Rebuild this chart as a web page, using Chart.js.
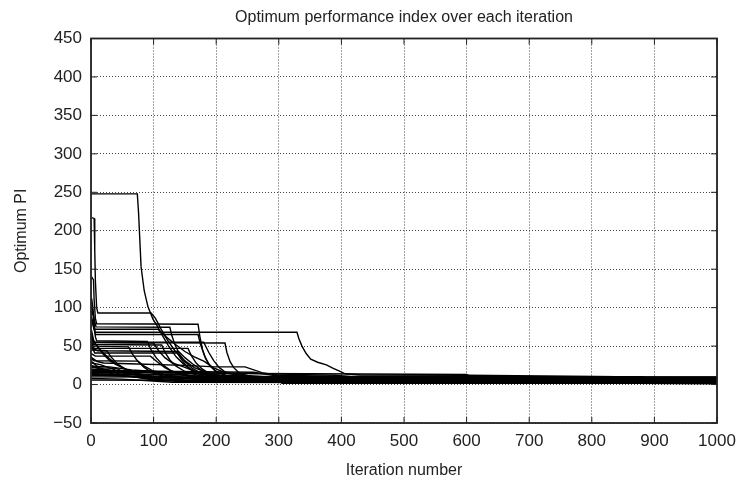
<!DOCTYPE html>
<html lang="en">
<head>
  <meta charset="UTF-8" />
  <title>Optimum performance index over each iteration</title>
  <style>
    body { margin: 0; background: #fff; }
    #wrap { width: 743px; height: 483px; }
  </style>
  <script src="https://cdn.jsdelivr.net/npm/chart.js"></script>
</head>
<body>
  <div id="wrap"><canvas id="piChart" width="743" height="483"></canvas></div>

  <script>
    // best-so-far PI per run: [iteration, PI]
    const runA = [[0,248],[74,248],[76,223],[80,153],[85,122],[91,101],[99,85],[106,76],[114,64],[124,50],[136,36],[150,25],[168,16],[190,11],[240,8],[420,6],[1000,5.5]];
    const runB = [[1,217],[5,216],[6,175],[7,135],[9,100],[11,93],[96,93],[103,86],[112,72],[122,58],[134,44],[148,32],[165,22],[190,14],[230,9],[330,6],[1000,4.5]];
    const runC = [[1,140],[4,136],[5,110],[7,86],[9,79],[171,78.5],[174,62],[178,46],[183,34],[190,24],[200,17],[215,12],[250,9],[340,7],[1000,6.5]];
    const runD = [[1,100],[3,96],[5,85],[8,75],[126,74.5],[129,64],[134,52],[141,40],[150,30],[162,21],[178,14],[205,10],[290,7],[1000,3]];
    const runE = [[1,96],[4,88],[6,68],[329,68],[332,60],[337,50],[344,40],[351,33],[362,29],[376,25.5],[387,21],[398,17],[406,14],[430,12.5],[600,12],[880,10],[890,8],[930,7],[1000,6]];
    const runF = [[1,88],[4,75],[7,65],[171,65],[175,52],[181,38],[188,27],[198,18],[215,12],[260,8],[1000,2]];
    const runG = [[1,70],[3,62],[5,54.5],[214,54],[217,42],[222,30],[228,22],[238,14],[260,10],[330,7],[1000,4]];
    const runH = [[1,60],[4,52],[113,51.5],[118,42],[126,32],[136,24],[150,17],[175,11],[230,7],[1000,1.5]];
    const runI = [[1,55],[5,47],[155,47],[160,38],[168,28],[178,20],[192,13],[220,9],[300,6],[1000,2.5]];
    const runJ = [[1,50],[6,41],[138,41],[144,33],[152,25],[163,17],[180,11],[220,8],[1000,5]];
    const runK = [[1,58],[6,54],[12,47],[20,39],[30,31],[40,26],[48,23],[60,18],[80,13],[110,9],[200,6],[1000,3.5]];
    const runL = [[1,62],[8,52],[16,44],[26,36],[38,28],[50,22],[66,16],[90,11],[140,8],[1000,7]];
    const runM = [[1,45],[25,44],[32,36],[42,27],[55,20],[70,15],[100,10],[160,8.5],[1000,8.5]];
    const runN = [[1,66],[4,55],[100,54],[108,44],[118,35],[130,28],[148,23],[170,16],[200,11],[260,8],[1000,7.5]];
    const runO = [[1,85],[5,72],[107,72],[120,62],[135,52],[150,43],[165,36],[181,30],[195,22],[215,15],[260,10],[380,7],[1000,5]];
    const runP = [[1,35],[10,30],[20,28],[60,27],[150,25],[198,23],[246,23],[273,15.5],[300,12],[400,10.5],[882,10.2],[884,9],[908,8.8],[912,6.5],[1000,6.5]];
    const runQ = [[1,30],[12,22],[30,18],[60,16],[120,15],[238,14.5],[350,14],[600,13],[610,9],[1000,8.8]];
    const runR = [[1,28],[15,26],[35,20],[55,14],[90,11],[150,9],[1000,7]];
    const runS = [[1,25],[8,22],[20,18],[40,12],[80,9],[150,6],[1000,5]];
    const runT = [[1,22],[40,21],[60,14],[100,9],[200,7],[1000,6]];
    const runU = [[1,20],[30,19],[50,12],[90,8],[140,4],[1000,4]];
    const runV = [[1,18],[100,17],[120,12],[170,7],[260,3],[1000,3]];
    const runW = [[1,16],[70,15],[85,9],[120,5],[1000,2]];
    const runX = [[1,14],[150,13],[180,8],[240,5],[1000,1]];
    const runY = [[1,12],[60,11],[100,6],[1000,5.5]];
    const runZ = [[1,10],[200,9.5],[230,6],[1000,4]];
    const runAA = [[1,40],[7,37],[95,37],[105,30],[118,22],[135,15],[160,10],[1000,9.2]];
    const runAB = [[1,33],[5,31],[75,30.5],[85,24],[98,18],[115,13],[150,9],[1000,6.8]];
    const runAC = [[1,48],[10,44],[140,43],[150,35],[162,27],[176,19],[195,12],[240,8],[1000,4.8]];
    const runAD = [[1,57],[6,55.5],[180,55],[188,42],[196,31],[205,22],[215,16],[240,11],[1000,3.8]];
    const runAE = [[1,52],[3,50],[60,49],[66,40],[74,31],[84,23],[96,16],[115,11],[160,8],[1000,6.2]];
    const runAF = [[1,112],[3,100],[5,80],[7,62],[9,57],[90,56],[96,45],[104,35],[114,26],[128,18],[148,12],[190,9],[1000,5.2]];
    const runAG = [[1,8],[50,7],[130,3],[1000,2]];
    const runAH = [[1,6],[300,5],[305,1.5],[1000,1.5]];
    const runAI = [[1,15],[20,12],[100,10],[400,9.8],[1000,9.6]];
    const runAJ = [[1,19],[45,18],[140,17],[260,16],[290,12],[340,9],[1000,8]];
    const runAK = [[1,17],[90,16],[200,15],[300,13.5],[390,12],[420,10],[1000,9.9]];
    const runAL = [[1,13],[110,12.5],[240,12],[280,10],[1000,3.2]];
    const runAM = [[1,24],[30,23],[65,19],[120,16],[180,14],[220,11],[1000,2.2]];

    const runs = [runA, runB, runC, runD, runE, runF, runG, runH, runI, runJ, runK, runL, runM, runN, runO,
                  runP, runQ, runR, runS, runT, runU, runV, runW, runX, runY, runZ,
                  runAA, runAB, runAC, runAD, runAE, runAF, runAG, runAH, runAI,
                  runAJ, runAK, runAL, runAM];

    const xTicks = [0, 100, 200, 300, 400, 500, 600, 700, 800, 900, 1000];
    const yTicks = [-50, 0, 50, 100, 150, 200, 250, 300, 350, 400, 450];

    const fontFam = '"Liberation Sans", Arial, Helvetica, sans-serif';
    const ink = '#222';

    // MATLAB style frame with inward ticks on all sides
    const boxPlugin = {
      id: 'box',
      afterDatasetsDraw(chart) {
        const { ctx, chartArea: a, scales: { x, y } } = chart;
        ctx.save();
        ctx.strokeStyle = ink;
        ctx.lineWidth = 1;
        ctx.beginPath();
        x.ticks.forEach(t => {
          const px = x.getPixelForValue(t.value);
          ctx.moveTo(px, a.bottom); ctx.lineTo(px, a.bottom - 6);
          ctx.moveTo(px, a.top); ctx.lineTo(px, a.top + 6);
        });
        y.ticks.forEach(t => {
          const py = y.getPixelForValue(t.value);
          ctx.moveTo(a.left, py); ctx.lineTo(a.left + 6, py);
          ctx.moveTo(a.right, py); ctx.lineTo(a.right - 6, py);
        });
        ctx.stroke();
        ctx.lineWidth = 1.8;
        ctx.strokeRect(a.left, a.top, a.right - a.left, a.bottom - a.top);
        ctx.restore();
      }
    };

    const ctx = document.getElementById('piChart').getContext('2d');
    new Chart(ctx, {
      type: 'scatter',
      data: {
        datasets: runs.map(r => ({
          data: r.map(p => ({ x: p[0], y: p[1] })),
          showLine: true,
          borderColor: '#000',
          borderWidth: 1.4,
          pointRadius: 0,
          tension: 0,
          fill: false
        }))
      },
      options: {
        responsive: false,
        animation: false,
        layout: { padding: { left: 0, right: 26, top: 0, bottom: 0 } },
        plugins: { legend: { display: false }, tooltip: { enabled: false }, title: { display: false } },
        scales: {
          x: {
            type: 'linear', position: 'bottom', min: 0, max: 1000,
            afterBuildTicks: s => { s.ticks = xTicks.map(v => ({ value: v })); },
            afterFit: s => { s.height = 60; s.paddingLeft = 0; s.paddingRight = 0; },
            ticks: { color: ink, font: { family: fontFam, size: 17 }, padding: 8, maxRotation: 0, autoSkip: false,
                     callback: v => String(v) },
            grid: { color: '#444', lineWidth: 1, drawTicks: false },
            border: { display: false, dash: [1, 2] },
            title: { display: true, text: 'Iteration number', color: ink, font: { family: fontFam, size: 16 }, padding: { top: 0, bottom: 2.4 } }
          },
          top: {
            type: 'linear', position: 'top', min: 0, max: 1,
            afterFit: s => { s.height = 38.5; s.paddingLeft = 0; s.paddingRight = 0; },
            ticks: { display: false },
            grid: { display: false, drawTicks: false },
            border: { display: false },
            title: { display: true, text: 'Optimum performance index over each iteration', color: ink, font: { family: fontFam, size: 16 }, padding: { top: 8, bottom: 0 } }
          },
          y: {
            type: 'linear', position: 'left', min: -50, max: 450,
            afterBuildTicks: s => { s.ticks = yTicks.map(v => ({ value: v })); },
            afterFit: s => { s.width = 91; s.paddingTop = 0; s.paddingBottom = 0; },
            ticks: {
              color: ink, font: { family: fontFam, size: 17 }, padding: 9, autoSkip: false,
              callback: v => v < 0 ? '\u2212' + Math.abs(v) : String(v)
            },
            grid: { color: '#444', lineWidth: 1, drawTicks: false },
            border: { display: false, dash: [1, 2] },
            title: { display: true, text: 'Optimum PI', color: ink, font: { family: fontFam, size: 16 }, padding: { top: 12.4, bottom: 0 } }
          }
        }
      },
      plugins: [boxPlugin]
    });
  </script>
</body>
</html>
